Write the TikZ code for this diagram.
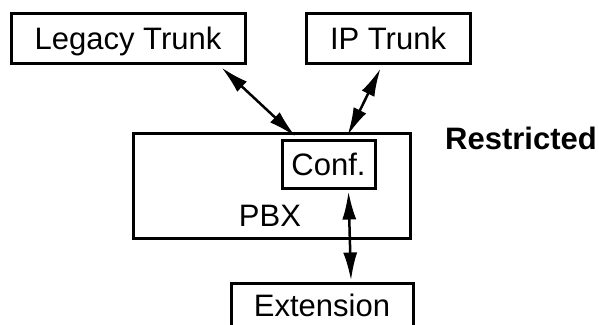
\documentclass[tikz,border=0pt]{standalone}
\usepackage{fontspec}
\setmainfont{Liberation Sans}
\usetikzlibrary{arrows.meta,calc}

\begin{document}
\begin{tikzpicture}[x=1pt,y=-1pt,
  box/.style={draw,line width=3pt,inner sep=0pt,text height=22pt,text depth=0pt},
  label/.style={inner sep=0pt,text height=22pt,text depth=0pt},
  link/.style={line width=2.5pt,{Latex[length=28pt,width=14pt]}-{Latex[length=28pt,width=14pt]}}]
\useasboundingbox (0,0) rectangle (599,324);
\clip (0,0) rectangle (599,324);
\tikzset{every node/.style={font=\fontsize{31}{37}\selectfont}}

\node[box,minimum width=234pt,minimum height=50pt] (legacy) at (128,38) {Legacy Trunk};
\node[box,minimum width=164pt,minimum height=50pt] (ip) at (388,38) {IP Trunk};

\node[box,minimum width=277pt,minimum height=105pt] (pbx) at (271.5,185.5) {};
\node[label] (pbxname) at (270,215) {PBX};
\node[box,minimum width=93pt,minimum height=48pt] (conf) at (328.5,164) {Conf.};

\node[box,minimum width=182pt,minimum height=44pt] (ext) at (322,305) {Extension};

\node[label,font=\fontsize{31}{37}\selectfont\bfseries] (restr) at (521,138) {Restricted};

\draw[link] ([xshift=-25pt,yshift=-3pt]legacy.south east) -- ([xshift=15pt,yshift=2pt]conf.north west);
\draw[link] ([xshift=76pt,yshift=-4pt]ip.south west) -- ([xshift=19pt,yshift=3pt]conf.north);
\draw[link] ([xshift=20pt,yshift=-2pt]conf.south) -- ([xshift=29pt,yshift=1pt]ext.north);

\end{tikzpicture}
\end{document}
